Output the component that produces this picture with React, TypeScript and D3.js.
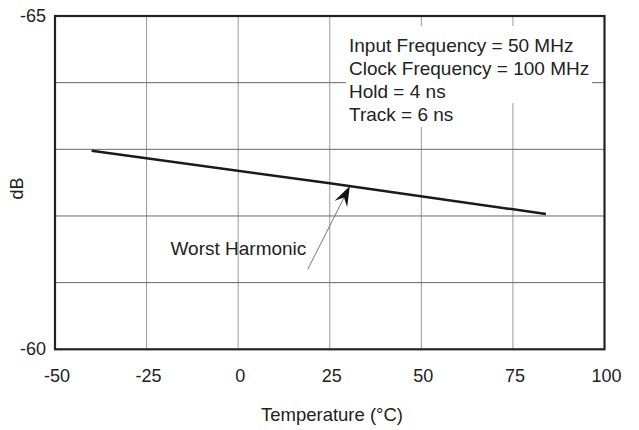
import React from "react";
import * as d3 from "d3";

const xTicks = [-50, -25, 0, 25, 50, 75, 100];
const yTicks = [-65, -64, -63, -62, -61, -60];
const yTickLabels = ["-65", "", "", "", "", "-60"];
const temperature = [-40, 25, 84];
const worstHarmonic = [-62.98, -62.49, -62.03];
const noteLines = [
  "Input Frequency = 50 MHz",
  "Clock Frequency = 100 MHz",
  "Hold = 4 ns",
  "Track = 6 ns",
];
const annotationLabel = "Worst Harmonic";
const arrowFrom = { t: 19, v: -61.2 };
const arrowTo = { t: 30.5, v: -62.45 };

const W = 639;
const H = 430;
const left = 55;
const right = 604.5;
const top = 16;
const bottom = 349.3;
const font = "'Liberation Sans', Arial, Helvetica, sans-serif";

export default function App() {
  const x = d3.scaleLinear().domain([-50, 100]).range([left, right]);
  const y = d3.scaleLinear().domain([-65, -60]).range([top, bottom]);
  const pts = temperature.map((t, i) => [t, worstHarmonic[i]] as [number, number]);
  const line = d3
    .line<[number, number]>()
    .x((d) => x(d[0]))
    .y((d) => y(d[1]));

  const ax = x(arrowFrom.t);
  const ay = y(arrowFrom.v);
  const bx = x(arrowTo.t);
  const by = y(arrowTo.v);
  const dx = bx - ax;
  const dy = by - ay;
  const len = Math.hypot(dx, dy);
  const ux = dx / len;
  const uy = dy / len;
  const px = -uy;
  const py = ux;
  const hl = 20;
  const hw = 7;
  const notch = 13;
  const head = [
    [bx, by],
    [bx - ux * hl + px * hw, by - uy * hl + py * hw],
    [bx - ux * notch, by - uy * notch],
    [bx - ux * hl - px * hw, by - uy * hl - py * hw],
  ]
    .map((p) => p.join(","))
    .join(" ");

  return (
    <svg width={W} height={H} style={{ position: "absolute", left: 0, top: 0, background: "#fff" }}>
      <rect x={0} y={0} width={W} height={H} fill="#fff" />
      {xTicks.slice(1, -1).map((t) => (
        <line key={"vx" + t} x1={x(t)} x2={x(t)} y1={top} y2={bottom} stroke="#9a9a9a" strokeWidth={1} />
      ))}
      {yTicks.slice(1, -1).map((v) => (
        <line key={"hy" + v} x1={left} x2={right} y1={y(v)} y2={y(v)} stroke="#666" strokeWidth={1} />
      ))}
      <rect x={346} y={26} width={246} height={77} fill="#fff" />
      <rect x={346} y={103} width={110} height={24} fill="#fff" />
      {noteLines.map((s, i) => (
        <text key={s} x={349} y={52.3 + i * 23} fontFamily={font} fontSize={19} fill="#222">
          {s}
        </text>
      ))}
      <path d={line(pts) || ""} fill="none" stroke="#1a1a1a" strokeWidth={2.5} />
      <line x1={ax} y1={ay} x2={bx - ux * notch} y2={by - uy * notch} stroke="#777" strokeWidth={1} />
      <polygon points={head} fill="#111" />
      <text x={170.5} y={255} fontFamily={font} fontSize={19} fill="#222">
        {annotationLabel}
      </text>
      <rect x={left} y={top} width={right - left} height={bottom - top} fill="none" stroke="#222" strokeWidth={2.2} />
      {yTicks.map((v, i) =>
        yTickLabels[i] ? (
          <text key={"yl" + v} x={46} y={y(v) + 6} textAnchor="end" fontFamily={font} fontSize={18} fill="#222">
            {yTickLabels[i]}
          </text>
        ) : null
      )}
      {xTicks.map((t) => (
        <text key={"xl" + t} x={x(t) + 2} y={382} textAnchor="middle" fontFamily={font} fontSize={18} fill="#222">
          {t}
        </text>
      ))}
      <text x={332} y={421} textAnchor="middle" fontFamily={font} fontSize={18.5} fill="#222">
        Temperature (°C)
      </text>
      <text
        transform={`translate(23,188.5) rotate(-90)`}
        textAnchor="middle"
        fontFamily={font}
        fontSize={18}
        fill="#222"
      >
        dB
      </text>
    </svg>
  );
}
